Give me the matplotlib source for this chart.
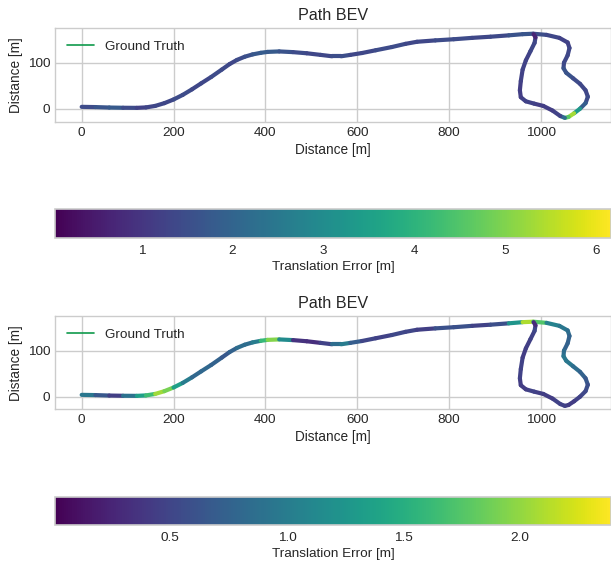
import numpy as np
import matplotlib
matplotlib.use("Agg")
import matplotlib.pyplot as plt
from matplotlib.collections import LineCollection
from matplotlib.colors import Normalize

# ---------------- data ----------------
path_x = [0, 30, 60, 90, 120, 140, 160, 180, 200, 220, 240, 260, 282, 305, 322, 338,
          355, 372, 390, 405, 430, 460, 490, 520, 545, 565, 585, 610, 640, 675, 705, 730,
          770, 810, 850, 890, 930, 960, 983, 1012, 1040, 1058, 1062, 1058, 1050, 1049,
          1055, 1070, 1085, 1097, 1102, 1097, 1085, 1072, 1060, 1052, 1042, 1025, 1005,
          985, 967, 956, 954, 956, 960, 967, 977, 986, 988, 984]
path_y = [4, 3.5, 2.5, 2, 1.8, 2.8, 6, 12, 20, 30, 42, 55, 69, 85, 97, 106,
          113, 118, 121.5, 123.5, 124.5, 123, 120.5, 117, 114, 114, 117, 121, 127, 134, 141, 145.5,
          148.5, 151, 154, 156.5, 159.5, 162, 163, 160.5, 154, 144, 132, 116, 100, 88,
          78, 66, 54, 40, 26, 12, 0, -10, -18, -20, -16, -4, 6,
          11, 16, 25, 40, 60, 85, 105, 125, 143, 155, 162]

# translation error per point, run 1
error_1 = [1.5, 1.4, 1.9, 1.6, 1.3, 1.2, 1.4, 1.3, 1.4, 1.5, 1.4, 1.3, 1.4, 1.5, 1.3, 1.4,
           1.5, 1.6, 1.8, 1.8, 1.7, 1.5, 1.4, 1.3, 1.4, 1.6, 1.4, 1.3, 1.4, 1.5, 1.4, 1.3,
           1.4, 1.5, 1.4, 1.3, 1.5, 1.7, 1.6, 1.4, 1.3, 1.2, 1.3, 1.4, 1.3, 1.5,
           1.7, 1.5, 1.4, 1.3, 1.4, 1.5, 2.2, 4.5, 6.168, 3.0, 1.3, 1.2, 1.1,
           1.2, 1.3, 1.2, 1.1, 1.2, 1.3, 1.2, 1.3, 1.4, 1.3, 0.045]
# translation error per point, run 2
error_2 = [1.0, 0.9, 0.4, 0.5, 1.3, 1.4, 1.9, 2.2, 1.6, 1.1, 0.9, 0.7, 0.9, 0.6, 0.7, 0.8,
           0.9, 0.8, 1.2, 2.0, 1.9, 0.4, 0.3, 0.35, 0.6, 1.1, 0.9, 0.5, 0.5, 0.45, 0.6, 0.4,
           0.5, 0.7, 0.5, 0.45, 0.7, 1.8, 2.39, 1.1, 1.0, 0.9, 0.8, 0.7, 0.8, 0.9,
           1.0, 0.9, 0.8, 0.7, 0.6, 0.55, 0.5, 0.45, 0.4, 0.45, 0.5, 0.45, 0.4,
           0.5, 0.45, 0.4, 0.45, 0.5, 0.45, 0.4, 0.5, 0.45, 0.6, 0.005]

title = "Path BEV"
xlabel = "Distance [m]"
ylabel = "Distance [m]"
cbar_label = "Translation Error [m]"
legend_label = "Ground Truth"

# ---------------- style ----------------
plt.style.use("seaborn-v0_8-whitegrid")
plt.rcParams["font.family"] = ["Liberation Sans", "DejaVu Sans"]
plt.rcParams["text.color"] = "#262626"
plt.rcParams["axes.labelcolor"] = "#262626"
plt.rcParams["xtick.color"] = "#262626"
plt.rcParams["ytick.color"] = "#262626"

W, H = 611, 562
fig = plt.figure(figsize=(W / 100, H / 100), dpi=100)


def box(left, top, right, bottom):
    return [left / W, (H - bottom) / H, (right - left) / W, (bottom - top) / H]


gt_color = "#0f9a4c"


def draw_path(ax, err, ylim, cax):
    xs = np.asarray(path_x, float)
    ys = np.asarray(path_y, float)
    e = np.asarray(err, float)
    ax.plot(xs, ys, color=gt_color, lw=1.2, label=legend_label, zorder=2)
    pts = np.column_stack([xs, ys]).reshape(-1, 1, 2)
    segs = np.concatenate([pts[:-1], pts[1:]], axis=1)
    norm = Normalize(vmin=e.min(), vmax=e.max())
    seg_err = 0.5 * (e[:-1] + e[1:])
    lc = LineCollection(segs, cmap="viridis", norm=norm, linewidths=3.0,
                        capstyle="round", joinstyle="round", zorder=3)
    lc.set_array(seg_err)
    ax.add_collection(lc)
    ax.set_xlim(-58.1, 1152.4)
    ax.set_ylim(*ylim)
    ax.set_xticks([0, 200, 400, 600, 800, 1000])
    ax.set_yticks([0, 100])
    ax.set_title(title, fontsize=11.6)
    ax.set_xlabel(xlabel, fontsize=9.8, labelpad=3)
    ax.set_ylabel(ylabel, fontsize=9.8, labelpad=3)
    ax.tick_params(labelsize=9.7)
    ax.grid(True, color="#cccccc", lw=1)
    for s in ax.spines.values():
        s.set_color("#cccccc")
    ax.legend(loc="upper left", fontsize=9.7, frameon=False)

    cb = fig.colorbar(lc, cax=cax, orientation="horizontal")
    cb.set_label(cbar_label, fontsize=9.7, labelpad=3)
    cb.ax.tick_params(labelsize=9.7, length=0, pad=5)
    cb.outline.set_edgecolor("#cccccc")
    cb.outline.set_linewidth(1.2)


ax1 = fig.add_axes(box(55, 28.3, 611, 122.3))
cax1 = fig.add_axes(box(55, 209.3, 611, 237.7))
draw_path(ax1, error_1, (-29.6, 174.8), cax1)

ax2 = fig.add_axes(box(55, 316, 611, 409.3))
cax2 = fig.add_axes(box(55, 497.3, 611, 525))
draw_path(ax2, error_2, (-27.4, 175.4), cax2)

fig.savefig("out.png", dpi=100)
